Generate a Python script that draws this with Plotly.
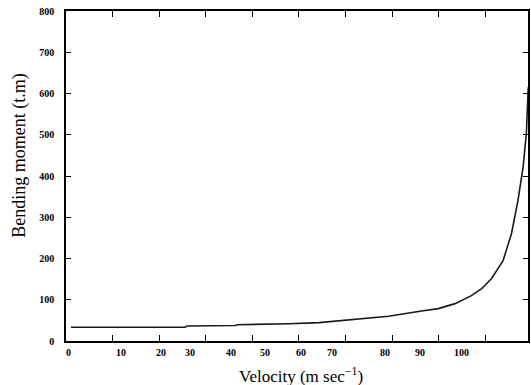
import plotly.graph_objects as go

# x positions are in axis units where the evenly spaced tick marks are 10 apart
x_pos = [1.07, 25.6, 26.0, 36.3, 36.8, 44.5, 45.0, 47.9, 54.3, 62.1, 69.2,
         76.3, 79.9, 83.5, 87.0, 89.2, 91.3, 93.8, 95.6, 97.0, 98.1, 98.8,
         99.1, 99.2]
moment = [33.2, 33.4, 36.5, 37.5, 39.5, 40.3, 41.3, 42.0, 44.5, 51.8, 60.0,
          72.7, 78.5, 90.6, 110.0, 127.0, 151.0, 195.0, 260.0, 341.0, 422.0,
          503.0, 600.0, 615.0]

x_tick_marks = [0, 10, 20, 30, 40, 50, 60, 70, 80, 90]
x_label_pos = [0.5, 11.7, 20.4, 26.6, 35.4, 42.7, 50.4, 57.1, 68.5, 76.0, 84.8]
x_label_text = ["0", "10", "20", "30", "40", "50", "60", "70", "80", "90", "100"]
y_ticks = [0, 100, 200, 300, 400, 500, 600, 700, 800]

tick_font = dict(family="Liberation Serif", size=10, color="black", weight="bold")
title_font = dict(family="Liberation Serif", size=17, color="black")
x_range = [0, 99.15]

fig = go.Figure()
fig.add_trace(go.Scatter(x=x_pos, y=moment, mode="lines",
                         line=dict(color="#1a1a1a", width=1.6),
                         showlegend=False, hoverinfo="skip"))

annotations = [
    dict(text=t, x=p, y=-(352 - 341) / 330, xref="x", yref="paper",
         xanchor="center", yanchor="middle", showarrow=False, font=tick_font)
    for p, t in zip(x_label_pos, x_label_text)
]
annotations += [
    dict(text="Velocity (m sec<sup>−1</sup>)", xref="paper", yref="paper",
         x=(302.5 - 66) / 464, y=-(375 - 341) / 330, xanchor="center",
         yanchor="middle", showarrow=False, font=title_font),
    dict(text="Bending moment (t.m)", xref="paper", yref="paper",
         x=-(66 - 19) / 464, y=(341 - 155.5) / 330, xanchor="center",
         yanchor="middle", textangle=-90, showarrow=False,
         font=dict(family="Liberation Serif", size=18, color="black")),
]

fig.update_layout(
    width=531, height=385,
    margin=dict(l=66, r=1, t=11, b=44),
    paper_bgcolor="white", plot_bgcolor="white",
    xaxis=dict(range=x_range, showgrid=False, zeroline=False,
               showline=True, linecolor="black", linewidth=1.5, mirror="allticks",
               tickvals=x_tick_marks, showticklabels=False,
               ticks="inside", ticklen=6, tickwidth=1.3, tickcolor="black"),
    yaxis=dict(range=[0, 800], showgrid=False, zeroline=False,
               showline=True, linecolor="black", linewidth=1.5, mirror="allticks",
               tickvals=y_ticks,
               ticks="inside", ticklen=5, tickwidth=1.3, tickcolor="black",
               tickfont=tick_font, ticklabelstandoff=8),
    annotations=annotations,
)

fig.write_html("out.html")
